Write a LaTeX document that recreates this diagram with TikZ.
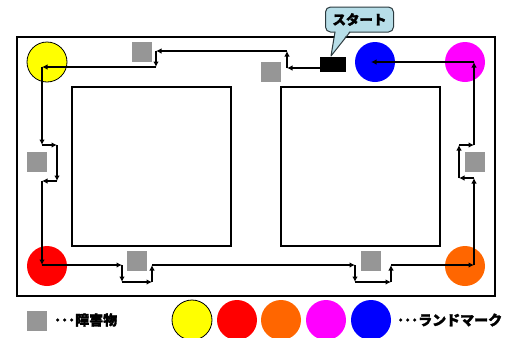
\documentclass[tikz,border=0pt]{standalone}
\usepackage{fontspec}
\newfontfamily\jp{Noto Sans CJK JP}[BoldFeatures={FakeBold=2}]
\usetikzlibrary{arrows.meta}
\definecolor{obst}{HTML}{969696}
\definecolor{lmyellow}{HTML}{FFFF00}
\definecolor{lmred}{HTML}{FF0000}
\definecolor{lmorange}{HTML}{FF6600}
\definecolor{lmmagenta}{HTML}{FF00FF}
\definecolor{lmblue}{HTML}{0000FF}
\definecolor{calfill}{HTML}{B7DEE8}
\definecolor{calline}{HTML}{2B3A3F}
\begin{document}
\begin{tikzpicture}[x=1pt,y=-1pt,
  wall/.style={draw=black,line width=2.3pt},
  lmark/.style={circle,minimum size=40pt,inner sep=0pt},
  obstacle/.style={rectangle,fill=obst,minimum size=20pt,inner sep=0pt},
  route/.style={line width=2pt,-{Latex[length=5.5pt,width=5.5pt]}},
  lbl/.style={font=\jp\bfseries\fontsize{14pt}{16pt}\selectfont,inner sep=0pt}
]
\useasboundingbox (0,0) rectangle (507,338);
\fill[white] (0,0) rectangle (507,338);
% walls
\draw[wall] (17,37) rectangle (495,296);
\draw[wall] (72,87) rectangle (231,246);
\draw[wall] (281,87) rectangle (440,246);
% landmarks
\node[lmark,fill=lmyellow,draw=black,line width=0.8pt] (Y) at (47,62) {};
\node[lmark,fill=lmred] (R) at (47,266) {};
\node[lmark,fill=lmorange] (O) at (465,266) {};
\node[lmark,fill=lmmagenta] (M) at (465,62) {};
\node[lmark,fill=lmblue] (B) at (375,62) {};
% obstacles
\node[obstacle] (o1) at (142,52) {};
\node[obstacle] (o2) at (271,72) {};
\node[obstacle] (o3) at (37,162) {};
\node[obstacle] (o4) at (475,162) {};
\node[obstacle] (o5) at (137,261) {};
\node[obstacle] (o6) at (371,261) {};
% start box
\node[rectangle,fill=black,minimum width=26pt,minimum height=15pt,inner sep=0pt] (S) at (333,64.5) {};
% callout
\node[lbl,draw=calline,fill=calfill,line width=1pt,rounded corners=5pt,
      minimum width=68pt,minimum height=25pt,font=\jp\bfseries\fontsize{13.5pt}{15pt}\selectfont] (C) at (359.5,19.5) {スタート};
\coordinate (cb1) at (335,32);
\coordinate (cb2) at (350,32);
\coordinate (ctip) at (331,56);
\fill[calfill] (335.6,31.2) -- (ctip) -- (349.4,31.2) -- cycle;
\draw[calline,line width=1pt,line join=round] (cb1) -- (ctip) -- (cb2);
% route waypoints
\coordinate (a1) at (320,68);
\coordinate (a2) at (287,68);
\coordinate (a3) at (287,51);
\coordinate (a4) at (156,51);
\coordinate (a5) at (156,67);
\coordinate (pY) at (42,67);
\coordinate (b1) at (42,145);
\coordinate (b2) at (57,145);
\coordinate (b3) at (57,181);
\coordinate (b4) at (42,181);
\coordinate (pR) at (42,265);
\coordinate (c1) at (122,265);
\coordinate (c2) at (122,282);
\coordinate (c3) at (152,282);
\coordinate (c4) at (152,265);
\coordinate (d1) at (355,265);
\coordinate (d2) at (355,282);
\coordinate (d3) at (391,282);
\coordinate (d4) at (391,265);
\coordinate (pO) at (474,265);
\coordinate (e1) at (474,178);
\coordinate (e2) at (459,178);
\coordinate (e3) at (459,145);
\coordinate (e4) at (474,145);
\coordinate (pM) at (474,62);
\coordinate (pB) at (371,62);
\draw[route] (a1) -- (a2);
\draw[route] (a2) -- (a3);
\draw[route] (a3) -- (a4);
\draw[route] (a4) -- (a5);
\draw[route] (a5) -- (pY);
\draw[route] (pY) -- (b1);
\draw[route] (b1) -- (b2);
\draw[route] (b2) -- (b3);
\draw[route] (b3) -- (b4);
\draw[route] (b4) -- (pR);
\draw[route] (pR) -- (c1);
\draw[route] (c1) -- (c2);
\draw[route] (c2) -- (c3);
\draw[route] (c3) -- (c4);
\draw[route] (c4) -- (d1);
\draw[route] (d1) -- (d2);
\draw[route] (d2) -- (d3);
\draw[route] (d3) -- (d4);
\draw[route] (d4) -- (pO);
\draw[route] (pO) -- (e1);
\draw[route] (e1) -- (e2);
\draw[route] (e2) -- (e3);
\draw[route] (e3) -- (e4);
\draw[route] (e4) -- (pM);
\draw[route] (pM) -- (pB);
% legend
\node[obstacle] (lo) at (37,321) {};
\node[lbl,anchor=west] (lot) at (54,320) {･･･障害物};
\node[lmark,fill=lmyellow,draw=black,line width=0.8pt] (l1) at (192,320) {};
\node[lmark,fill=lmred] (l2) at (237,320) {};
\node[lmark,fill=lmorange] (l3) at (281,320) {};
\node[lmark,fill=lmmagenta] (l4) at (326,320) {};
\node[lmark,fill=lmblue] (l5) at (371,320) {};
\node[lbl,anchor=west] (llt) at (397,320) {･･･ランドマーク};
\end{tikzpicture}
\end{document}
